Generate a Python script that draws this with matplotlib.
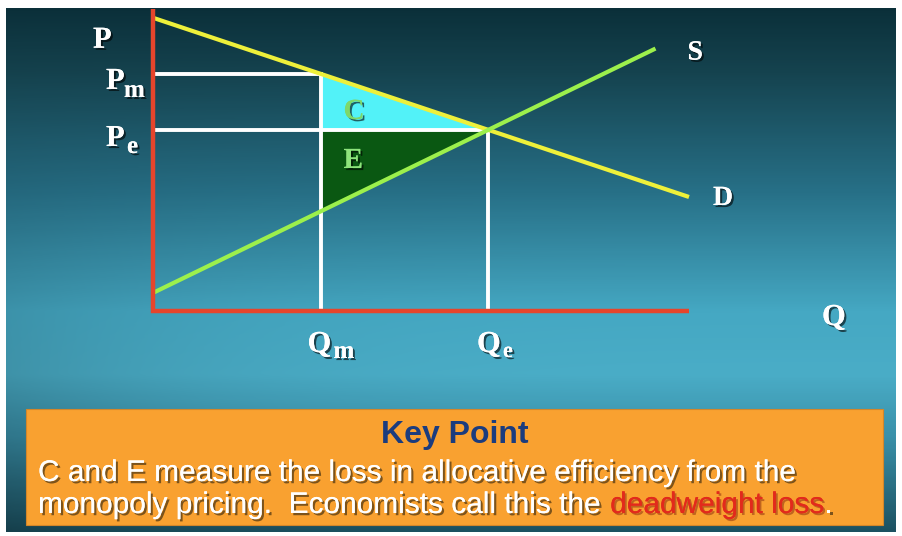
import numpy as np
import matplotlib.pyplot as plt
from matplotlib import patheffects as pe
from matplotlib.patches import Polygon, Rectangle
from matplotlib.colors import LinearSegmentedColormap

# demand and supply curves (quantity, price)
demand_q = [0.0, 16.0]
demand_p = [16.2, 6.3]
supply_q = [0.0, 15.0]
supply_p = [1.0, 14.5]

# monopoly and competitive outcomes
q_m, p_m = 5.0, 13.1
q_e, p_e = 10.0, 10.0

# length of the drawn axes
axis_q_max = 16.0
axis_p_max = 16.7

key_title = "Key Point"
key_line1 = "C and E measure the loss in allocative efficiency from the"
key_line2 = "monopoly pricing.  Economists call this the "
key_red = "deadweight loss"
key_end = "."

W, H = 902, 536
fig = plt.figure(figsize=(W / 100, H / 100), dpi=100, facecolor="white")

# slide background in pixel units
bg = fig.add_axes([0, 0, 1, 1])
bg.set_xlim(0, W)
bg.set_ylim(H, 0)
bg.axis("off")

stops = [(0.0, "#0b303a"), (0.12, "#15434f"), (0.35, "#277087"),
         (0.58, "#45a8c3"), (0.7, "#4aadc7"), (0.82, "#3a90a9"),
         (1.0, "#1c5262")]
cmap = LinearSegmentedColormap.from_list("slide", stops)
yy = np.linspace(0, 1, 300)[:, None]
xx = np.linspace(0, 1, 400)[None, :]
rgb = cmap(yy * np.ones_like(xx))[..., :3]
shade = 1 - 0.22 * (1 - xx) ** 4 * yy
rgb = rgb * shade[..., None]
bg.imshow(rgb, extent=[6, 896, 532, 8], aspect="auto", interpolation="bilinear")

# key point box
bg.add_patch(Rectangle((26, 409), 857, 116, fc="#f9a130", ec="#d4862a", lw=0.8))

shadow = [pe.withSimplePatchShadow(offset=(1.6, -1.6), shadow_rgbFace="#3a2a10", alpha=0.65),
          pe.Normal()]
red_shadow = [pe.withSimplePatchShadow(offset=(1.4, -1.4), shadow_rgbFace="#7a1a0a", alpha=0.45),
              pe.Normal()]
sans = "Liberation Sans"
body = 21.5
bg.text(455, 443, key_title, ha="center", va="baseline", fontsize=23,
        fontweight="bold", color="#1b3c7e", family=sans)
bg.text(38, 481, key_line1, ha="left", va="baseline", fontsize=body,
        color="white", family=sans, path_effects=shadow)
t2 = bg.text(38, 513, key_line2, ha="left", va="baseline", fontsize=body,
              color="white", family=sans, path_effects=shadow)
t3 = bg.annotate(key_red, xy=(1, 0), xycoords=t2, ha="left", va="bottom",
                 fontsize=body, color="#e22a1c", family=sans, path_effects=red_shadow)
bg.annotate(key_end, xy=(1, 0), xycoords=t3, ha="left", va="bottom",
            fontsize=body, color="white", family=sans, path_effects=shadow)

# diagram axes: origin sits at (153, 311) px
px_q, px_p = 33.5, 18.1
x0, y0 = 153, 311
ax = fig.add_axes([0, 0, 1, 1])
ax.set_xlim(-x0 / px_q, (W - x0) / px_q)
ax.set_ylim(-(H - y0) / px_p, y0 / px_p)
ax.axis("off")
ax.patch.set_alpha(0)

s_at_qm = np.interp(q_m, supply_q, supply_p)
ax.add_patch(Polygon([(q_m, p_m), (q_m, p_e), (q_e, p_e)], closed=True,
                     fc="#52f2f8", ec="none", zorder=2))
ax.add_patch(Polygon([(q_m, p_e), (q_m, s_at_qm), (q_e, p_e)], closed=True,
                     fc="#0a5812", ec="none", zorder=2))

ax.plot([0, q_m, q_m], [p_m, p_m, 0], color="white", lw=2.8,
        solid_joinstyle="miter", zorder=3)
ax.plot([0, q_e, q_e], [p_e, p_e, 0], color="white", lw=2.8,
        solid_joinstyle="miter", zorder=3)
ax.plot(demand_q, demand_p, color="#eef03a", lw=3, solid_capstyle="butt", zorder=4)
ax.plot(supply_q, supply_p, color="#9cf04c", lw=3, solid_capstyle="butt", zorder=4)
ax.plot([0, 0, axis_q_max], [axis_p_max, 0, 0], color="#e6452c", lw=3.2,
        solid_joinstyle="miter", solid_capstyle="butt", zorder=5)

serif = "Liberation Serif"
lab_fx = [pe.withSimplePatchShadow(offset=(1.5, -1.5), shadow_rgbFace="black", alpha=0.6),
          pe.Normal()]


def label(xy, text, dx, dy, size=22, color="white"):
    ax.annotate(text, xy=xy, xytext=(dx, dy), textcoords="offset pixels",
                ha="left", va="baseline", fontsize=size, fontweight="bold",
                color=color, family=serif, path_effects=lab_fx, zorder=6)


label((0, axis_p_max), "P", -60, -39)
label((0, p_m), "P", -47, -15)
label((0, p_m), "m", -29, -23, size=18)
label((0, p_e), "P", -47, -16)
label((0, p_e), "e", -26, -23, size=18)
label((axis_q_max, 0), "Q", 133, -14)
label((q_m, 0), "Q", -13, -41)
label((q_m, 0), "m", 13, -47, size=18)
label((q_e, 0), "Q", -11, -41)
label((q_e, 0), "e", 15, -46, size=16)
label((supply_q[-1], supply_p[-1]), "S", 32, -11, size=20)
label((demand_q[-1], demand_p[-1]), "D", 24, -8, size=20)
label((q_m, p_e), "C", 23, 11, size=21, color="#7ed86a")
label((q_m, p_e), "E", 23, -38, size=21, color="#8ee47c")

fig.savefig("out.png", dpi=100, facecolor=fig.get_facecolor())
